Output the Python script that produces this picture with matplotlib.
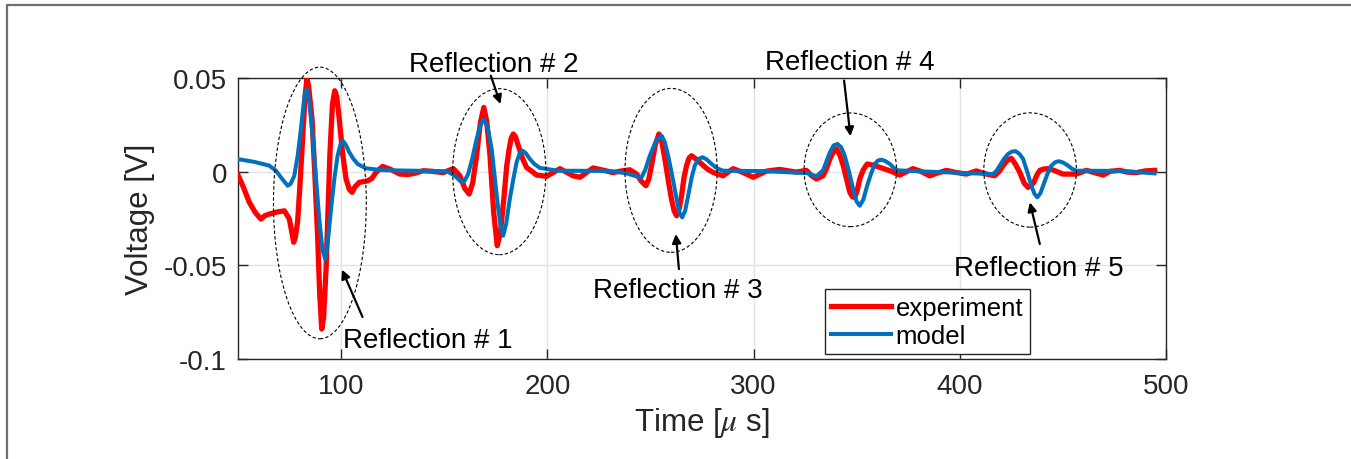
import matplotlib
matplotlib.use("Agg")
import matplotlib.pyplot as plt
from matplotlib.patches import Ellipse, Rectangle

plt.rcParams['font.family'] = ['Liberation Sans', 'DejaVu Sans']
plt.rcParams['mathtext.fontset'] = 'stix'

# ---------------- data ----------------
exp_t = [50, 52.5, 55.5, 58.5, 61.1, 63, 65.2, 69, 72.5, 74.9, 76.2, 77.0, 77.8, 78.9,
         80.0, 81.4, 82.5, 83.4, 84.2, 85.9, 87.2, 88.6, 89.6, 90.6, 91.5, 92.7, 93.7,
         94.6, 95.8, 96.9, 97.9, 99.1, 100.7, 102.4, 104, 105.3, 106.8, 108.8, 112.9,
         115, 116.9, 120.1, 124, 128.5, 132.6, 136, 139.8, 144, 149.5, 154.4, 157.6,
         160, 162.1, 163.8, 165.7, 167.5, 169.2, 170.6, 172.2, 174, 175.7, 177.2, 178.9,
         180.3, 181.5, 182.5, 183.5, 184.6, 185.9, 188, 189.9, 194.8, 199.6, 206.1,
         212.5, 215.8, 222.2, 227, 231.9, 236, 240, 243.3, 245.5, 247.8, 249.2, 250.5,
         252.3, 254.1, 255.5, 257.0, 258.7, 260.2, 261.5, 262.7, 263.9, 265.1, 266.3,
         267.5, 268.7, 269.9, 272, 274.8, 277.5, 280.4, 285.2, 290.1, 295, 299.8, 306.3,
         312.7, 316.5, 320.8, 325.6, 328, 330.5, 333.7, 335.5, 337.0, 338.7, 340.2,
         341.8, 343.5, 345.1, 346.7, 348, 349.1, 350.3, 351.5, 353.2, 355.1, 358, 361.2,
         366.1, 370.9, 377.3, 381, 385.4, 389, 393.5, 398, 403.2, 408, 412.9, 416.9,
         419, 421.0, 423, 425.0, 427, 429.1, 431.2, 433.1, 434.5, 435.9, 437.3, 438.8,
         441, 443.6, 450.1, 456.5, 461.4, 465, 469.5, 473, 477.5, 481, 485.6, 490, 494.5]
exp_v = [-0.0018, -0.008, -0.0164, -0.022, -0.0253, -0.0235, -0.0226, -0.0215, -0.0209,
         -0.0253, -0.033, -0.0377, -0.035, -0.0269, -0.008, 0.0192, 0.040, 0.0495,
         0.046, 0.0281, 0.0, -0.0342, -0.065, -0.084, -0.078, -0.052, -0.020, 0.0103,
         0.036, 0.0432, 0.040, 0.0281, 0.010, -0.0039, -0.0095, -0.011, -0.008, -0.0057,
         -0.0049, -0.0035, -0.0004, 0.0028, 0.0012, -0.0013, -0.0015, -0.0008, 0.0005,
         0.0002, -0.0005, 0.0016, -0.0022, -0.009, -0.0119, -0.006, 0.0085, 0.026,
         0.0343, 0.027, 0.0085, -0.022, -0.0395, -0.033, -0.0146, 0.003, 0.0121, 0.018,
         0.0201, 0.0185, 0.0139, 0.007, 0.0023, -0.0018, -0.0025, 0.0016, -0.0022,
         -0.003, 0.002, 0.0008, -0.0005, 0.0004, 0.001, -0.0013, -0.005, -0.0075,
         -0.004, 0.0032, 0.014, 0.0201, 0.016, 0.0068, -0.005, -0.0146, -0.021, -0.0235,
         -0.020, -0.0128, -0.003, 0.0032, 0.0072, 0.0085, 0.0068, 0.0041, 0.0015,
         -0.0004, -0.0022, 0.0016, -0.0005, -0.003, 0.0003, 0.0012, 0.0005, -0.0002,
         0.0007, -0.002, -0.0039, -0.0022, 0.002, 0.0068, 0.0105, 0.0121, 0.009, 0.0032,
         -0.004, -0.011, -0.0135, -0.0137, -0.010, -0.0039, 0.001, 0.0041, 0.0035,
         0.0023, 0.0005, -0.0018, 0.0016, 0.0002, -0.0022, -0.0008, 0.0007, -0.0004,
         -0.0013, 0.0004, -0.0013, -0.0022, 0.0, 0.0032, 0.006, 0.0071, 0.004, -0.0004,
         -0.006, -0.0084, -0.0075, -0.0057, -0.002, 0.0007, 0.0015, 0.0016, -0.0013,
         -0.0013, 0.0007, -0.0004, -0.0018, 0.0002, 0.0007, -0.0002, -0.0005, 0.0004,
         0.0007]

mod_t = [50, 58, 65.2, 68.4, 71.5, 74.1, 75.5, 77.3, 79, 80.5, 82.2, 83.4, 84.5, 86.2,
         87.8, 89.4, 91, 92.3, 93.5, 95.1, 96.8, 98.3, 99.7, 100.8, 102.2, 104.0, 106,
         108.0, 112.0, 120, 151.2, 155, 158.4, 159.8, 161.6, 163.6, 165.7, 167.6, 169.4,
         171.2, 173.0, 174.6, 176.2, 177.5, 178.6, 180, 181.8, 183.5, 185.1, 186.6,
         188.0, 189.6, 191.5, 193.8, 196.4, 205, 230, 238, 243.3, 245.7, 247.5, 249.7,
         252.5, 255.4, 256.9, 258.6, 260.7, 262.7, 264.1, 265.4, 266.8, 268.3, 270,
         271.5, 273.3, 275.3, 277.3, 279.6, 282.3, 285.2, 305, 326, 330.5, 332, 333.7,
         335.5, 337.0, 338.8, 340.7, 342.5, 344.2, 346.3, 348.3, 350, 351.5, 353.2,
         355.1, 357, 358.8, 360.4, 362.0, 364, 366.1, 368, 370.1, 380, 405, 416.1,
         417.8, 419.4, 421.4, 423.4, 425.2, 427.1, 428.9, 430.7, 432.7, 434.7, 436.2,
         437.6, 439.1, 440.7, 442.5, 444.4, 446.2, 448.0, 450.2, 452.5, 454.5, 456.5,
         477.5, 494.5]
mod_v = [0.0067, 0.0052, 0.0032, 0.0005, -0.004, -0.0075, -0.0065, -0.0022, 0.009,
         0.0228, 0.040, 0.0441, 0.038, 0.0192, -0.003, -0.0253, -0.042, -0.0467, -0.038,
         -0.02, -0.003, 0.0085, 0.0145, 0.0165, 0.0145, 0.0103, 0.0068, 0.0041, 0.0018,
         0.0008, 0.0002, -0.002, -0.0057, -0.005, -0.0013, 0.007, 0.0174, 0.025, 0.0281,
         0.023, 0.0121, -0.004, -0.02, -0.030, -0.0342, -0.028, -0.0146, -0.004, 0.005,
         0.0098, 0.0112, 0.0098, 0.0068, 0.004, 0.002, 0.0005, 0.0004, -0.0008, -0.0025,
         -0.003, 0.001, 0.0085, 0.016, 0.0192, 0.016, 0.0085, -0.003, -0.0146, -0.022,
         -0.0244, -0.021, -0.0128, -0.003, 0.0032, 0.0068, 0.0077, 0.0065, 0.0041,
         0.0018, 0.0005, 0.0003, -0.0008, -0.0025, -0.001, 0.0007, 0.006, 0.0103, 0.014,
         0.0148, 0.013, 0.0085, 0.0, -0.0093, -0.016, -0.0182, -0.015, -0.0075, -0.001,
         0.0041, 0.006, 0.0064, 0.0056, 0.0041, 0.002, 0.0007, 0.0002, -0.0008, -0.0013,
         0.0005, 0.0032, 0.0068, 0.0094, 0.0107, 0.0109, 0.0095, 0.0068, 0.0, -0.0075,
         -0.0118, -0.0137, -0.0115, -0.0066, -0.0012, 0.0032, 0.005, 0.0056, 0.0048,
         0.0032, 0.0015, 0.0005, 0.0004, -0.0009]

# ellipses: centre t, centre v, width (us), height (V)
ell_cx = [89.7, 176.7, 260.0, 346.9, 434.1]
ell_cy = [-0.0167, 0.0, 0.0007, 0.001, 0.0009]
ell_w = [45.0, 45.2, 44.7, 44.8, 44.9]
ell_h = [0.145, 0.0886, 0.0875, 0.0607, 0.061]

ann_labels = ['Reflection # 1', 'Reflection # 2', 'Reflection # 3',
              'Reflection # 4', 'Reflection # 5']
ann_text_xy = [(141.9, -0.0936), (174.1, 0.0537), (263.4, -0.0671),
               (346.7, 0.0548), (438.4, -0.0552)]
ann_tail = [(110.4, -0.0776), (172.6, 0.0512), (263.8, -0.052),
            (343.9, 0.0486), (438.8, -0.0386)]
ann_head = [(100.4, -0.0523), (177.3, 0.0361), (262.3, -0.0333),
            (347.0, 0.0189), (434.0, -0.0164)]

xticks = [100, 200, 300, 400, 500]
yticks = [-0.1, -0.05, 0, 0.05]
ytick_labels = ['-0.1', '-0.05', '0', '0.05']

# ---------------- figure ----------------
fig = plt.figure(figsize=(13.51, 4.60), dpi=100)
fig.patches.append(Rectangle((0.0052, -0.05), 1.1, 1.037, transform=fig.transFigure,
                             fill=False, edgecolor='#6e6e6e', lw=1.6, zorder=0))
ax = fig.add_axes([238/1351, 1-360/460, 928/1351, 281/460])

axc = '#262626'
ax.plot(exp_t, exp_v, color='#ff0000', lw=3.8, label='experiment', zorder=3,
        solid_joinstyle='round')
ax.plot(mod_t, mod_v, color='#0072bd', lw=2.9, label='model', zorder=4,
        solid_joinstyle='round')

for cx, cy, w, h in zip(ell_cx, ell_cy, ell_w, ell_h):
    ax.add_patch(Ellipse((cx, cy), w, h, fill=False, edgecolor='black', lw=0.8,
                         linestyle=(0, (3, 2)), zorder=5, clip_on=False))

for lab, txy, tail, head in zip(ann_labels, ann_text_xy, ann_tail, ann_head):
    ax.annotate('', xy=head, xytext=tail,
                arrowprops=dict(arrowstyle='-|>', color='black', lw=1.6,
                                mutation_scale=13, shrinkA=0, shrinkB=0),
                zorder=6, annotation_clip=False)
    ax.text(txy[0], txy[1], lab, ha='center', va='baseline', fontsize=20,
            color='black', zorder=6)

ax.set_xlim(50, 500)
ax.set_ylim(-0.1, 0.05)
ax.set_xticks(xticks)
ax.set_yticks(yticks)
ax.set_yticklabels(ytick_labels)
ax.grid(True, color='#e3e3e3', lw=1.0, zorder=0)
ax.set_axisbelow(True)
ax.tick_params(direction='in', length=7, width=1, colors=axc, labelsize=20,
               top=True, right=True, labeltop=False, labelright=False)
ax.tick_params(axis='x', pad=10)
ax.tick_params(axis='y', pad=8)
for s in ax.spines.values():
    s.set_color(axc)
    s.set_linewidth(1.0)

ax.set_xlabel(r'Time [$\mu$ s]', fontsize=22.5, color=axc)
ax.set_ylabel('Voltage [V]', fontsize=22.5, color=axc)
ax.yaxis.set_label_coords(-0.0894, 0.5)
ax.xaxis.set_label_coords(0.5, -0.165)

leg = ax.legend(loc='lower right', bbox_to_anchor=(0.853, 0.018), fontsize=18.5,
                frameon=True, fancybox=False, framealpha=1, edgecolor=axc,
                handlelength=2.3, handletextpad=0.2, borderpad=0.25,
                labelspacing=0.15, borderaxespad=0)
leg.get_frame().set_linewidth(1.0)

fig.savefig('out.png', dpi=100)
